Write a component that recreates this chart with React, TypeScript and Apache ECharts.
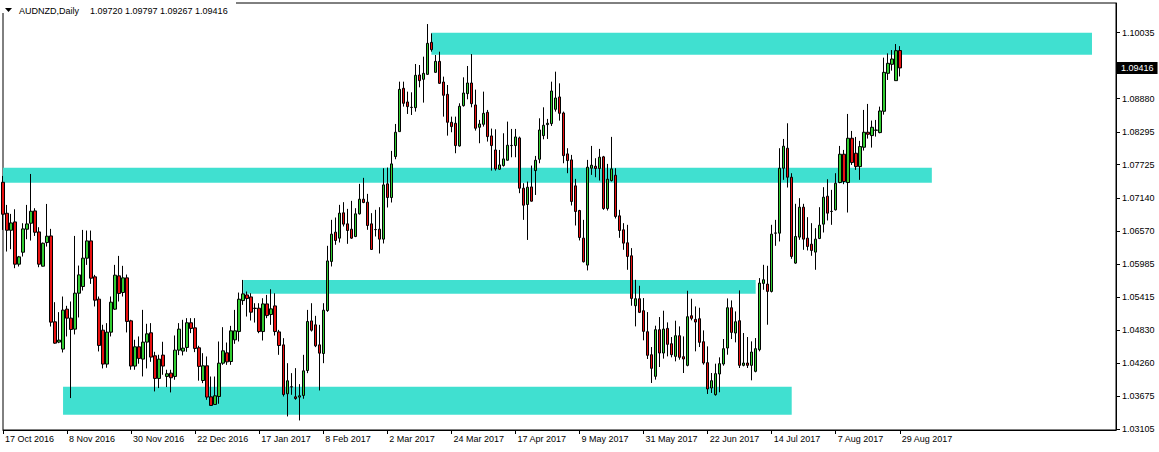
import React, { useEffect, useRef } from "react";
import * as echarts from "echarts";

const symbolName = "AUDNZD";
const timeframe = "Daily";
const firstDay = "2016-10-17";
const holidays = ["2016-12-26", "2017-01-02"];
const emptySlots = 54;

const open = [
  1.07418, 1.06876, 1.06579, 1.06725, 1.05986, 1.06195, 1.06597, 1.06702, 1.06917, 1.0655,
  1.05951, 1.06364, 1.0648, 1.04979, 1.04624, 1.04502, 1.052, 1.05043, 1.04851, 1.05479,
  1.05596, 1.06091, 1.06393, 1.05765, 1.05375, 1.04833, 1.0424, 1.04798, 1.052, 1.05782,
  1.05491, 1.05747, 1.04996, 1.04205, 1.04542, 1.04327, 1.04624, 1.04787, 1.04385, 1.03989,
  1.04397, 1.04024, 1.04082, 1.04024, 1.04484, 1.04467, 1.04531, 1.04962, 1.04874, 1.04525,
  1.03953, 1.0421, 1.03668, 1.03535, 1.03674, 1.04256, 1.04437, 1.04285, 1.04664, 1.04809,
  1.0535, 1.05449, 1.05414, 1.05217, 1.05217, 1.04809, 1.05292, 1.05106, 1.05257, 1.04803,
  1.04576, 1.03721, 1.03843, 1.03668, 1.03663, 1.03692, 1.04128, 1.04995, 1.04926, 1.04576,
  1.04425, 1.05176, 1.06034, 1.06546, 1.06441, 1.06884, 1.06691, 1.06598, 1.0647, 1.06866,
  1.07122, 1.0707, 1.06691, 1.06592, 1.06598, 1.06424, 1.0739, 1.07151, 1.07867, 1.08303,
  1.0906, 1.08821, 1.08728, 1.08722, 1.09293, 1.09217, 1.09304, 1.09863, 1.09339, 1.09531,
  1.0917, 1.08955, 1.08466, 1.08449, 1.08053, 1.08757, 1.08967, 1.09153, 1.08769, 1.08379,
  1.08431, 1.08641, 1.08228, 1.07983, 1.07646, 1.0771, 1.07803, 1.08059, 1.08059, 1.08193,
  1.07314, 1.07029, 1.07337, 1.07622, 1.0782, 1.08233, 1.08426, 1.08443, 1.08693, 1.08909,
  1.08629, 1.07914, 1.07809, 1.07355, 1.06924, 1.06441, 1.0597, 1.07663, 1.07698, 1.07658,
  1.07862, 1.06959, 1.07448, 1.07541, 1.06831, 1.06587, 1.0636, 1.06133, 1.0526, 1.05382,
  1.05173, 1.04806, 1.04404, 1.04026, 1.04841, 1.04433, 1.04864, 1.04596, 1.04375, 1.04736,
  1.04369, 1.04218, 1.05085, 1.05021, 1.05033, 1.04631, 1.04265, 1.03822, 1.03706, 1.04067,
  1.04241, 1.04521, 1.05225, 1.04783, 1.04998, 1.04218, 1.04259, 1.04218, 1.04113, 1.04492,
  1.0565, 1.05638, 1.0551, 1.06528, 1.06528, 1.07663, 1.08013, 1.07506, 1.06005, 1.06459,
  1.06982, 1.06441, 1.06336, 1.06197, 1.06435, 1.06686, 1.07174, 1.06907, 1.06936, 1.07413,
  1.07908, 1.07413, 1.08187, 1.07925, 1.07692, 1.0803, 1.08292, 1.08234, 1.08327, 1.08286,
  1.08659, 1.09322, 1.09479, 1.09194, 1.0972,
];

const close = [
  1.06859, 1.06579, 1.06707, 1.05986, 1.06114, 1.06603, 1.0669, 1.06911, 1.06544, 1.05986,
  1.06352, 1.06475, 1.04973, 1.04606, 1.04659, 1.05183, 1.05043, 1.04845, 1.05479, 1.05799,
  1.06091, 1.06393, 1.05741, 1.05357, 1.04566, 1.0424, 1.04798, 1.05322, 1.05794, 1.05474,
  1.05747, 1.04985, 1.04205, 1.04542, 1.04339, 1.04624, 1.04769, 1.04362, 1.03989, 1.04327,
  1.04205, 1.04071, 1.04001, 1.04484, 1.04851, 1.04519, 1.04962, 1.04863, 1.04513, 1.042,
  1.0421, 1.03663, 1.03517, 1.03686, 1.04256, 1.04472, 1.04279, 1.04821, 1.04821, 1.05374,
  1.05467, 1.05385, 1.05147, 1.05212, 1.04809, 1.05292, 1.05088, 1.05205, 1.04809, 1.04565,
  1.03709, 1.03948, 1.0384, 1.03639, 1.03686, 1.04122, 1.04984, 1.04832, 1.04559, 1.04431,
  1.05182, 1.06043, 1.06511, 1.064, 1.06878, 1.06686, 1.06575, 1.06441, 1.06866, 1.07122,
  1.07064, 1.06662, 1.06243, 1.0659, 1.06424, 1.07372, 1.07151, 1.07739, 1.08292, 1.09042,
  1.08798, 1.0874, 1.08725, 1.09287, 1.09194, 1.09322, 1.09846, 1.09735, 1.09531, 1.09147,
  1.08938, 1.08466, 1.08391, 1.08059, 1.08746, 1.08978, 1.09153, 1.08792, 1.08362, 1.08437,
  1.08623, 1.08216, 1.08059, 1.07651, 1.07721, 1.07826, 1.08065, 1.08062, 1.0821, 1.07314,
  1.07017, 1.07331, 1.07087, 1.07803, 1.08332, 1.08414, 1.08449, 1.09013, 1.08891, 1.08623,
  1.07884, 1.07797, 1.07082, 1.06907, 1.06453, 1.06028, 1.07681, 1.07716, 1.07658, 1.07856,
  1.06959, 1.07471, 1.07652, 1.0682, 1.06575, 1.06354, 1.06121, 1.05388, 1.05382, 1.05144,
  1.04812, 1.04393, 1.04166, 1.04841, 1.04433, 1.04852, 1.04585, 1.04404, 1.04736, 1.04358,
  1.04329, 1.05068, 1.05039, 1.04975, 1.0462, 1.04259, 1.03805, 1.0395, 1.04073, 1.04247,
  1.04509, 1.05225, 1.04794, 1.0498, 1.04218, 1.04259, 1.04218, 1.04451, 1.04509, 1.05656,
  1.05714, 1.0551, 1.06511, 1.06532, 1.07663, 1.08048, 1.07506, 1.06121, 1.0647, 1.06982,
  1.06424, 1.06296, 1.06226, 1.06424, 1.06668, 1.07157, 1.06878, 1.0691, 1.07401, 1.07908,
  1.07431, 1.08187, 1.07762, 1.07692, 1.08042, 1.08292, 1.08257, 1.08379, 1.0833, 1.08664,
  1.09339, 1.09497, 1.09572, 1.09718, 1.09416,
];

const low = [
  1.06585, 1.06207, 1.06248, 1.05916, 1.05945, 1.0612, 1.06422, 1.06399, 1.0648, 1.05933,
  1.05945, 1.06294, 1.04897, 1.04595, 1.04606, 1.04443, 1.04723, 1.03646, 1.04758, 1.05055,
  1.05526, 1.05974, 1.05642, 1.05247, 1.04461, 1.04164, 1.04176, 1.04723, 1.05188, 1.05334,
  1.05421, 1.04793, 1.04141, 1.04141, 1.04246, 1.04024, 1.04164, 1.0428, 1.03762, 1.03821,
  1.04053, 1.03838, 1.03745, 1.03966, 1.04397, 1.04391, 1.04455, 1.04781, 1.04449, 1.0395,
  1.03907, 1.03616, 1.03517, 1.0353, 1.03546, 1.04227, 1.04227, 1.04227, 1.04594, 1.04635,
  1.05275, 1.05071, 1.05001, 1.04966, 1.0478, 1.04652, 1.05042, 1.04926, 1.04739, 1.04402,
  1.03674, 1.03325, 1.03703, 1.03616, 1.03255, 1.03634, 1.04082, 1.04809, 1.04536, 1.03779,
  1.04256, 1.05153, 1.05946, 1.06325, 1.06365, 1.06645, 1.06342, 1.06429, 1.06459, 1.06854,
  1.07052, 1.06587, 1.06243, 1.0647, 1.06173, 1.06348, 1.06977, 1.07064, 1.0782, 1.083,
  1.0874, 1.08612, 1.08594, 1.08653, 1.09077, 1.0881, 1.09293, 1.097, 1.09333, 1.09136,
  1.08565, 1.08233, 1.08292, 1.07925, 1.08041, 1.0874, 1.08868, 1.08728, 1.08321, 1.081,
  1.08391, 1.08129, 1.07622, 1.07622, 1.07634, 1.07692, 1.07797, 1.07855, 1.07855, 1.07227,
  1.06761, 1.0641, 1.07081, 1.07196, 1.0775, 1.08169, 1.08175, 1.08402, 1.08653, 1.08495,
  1.0775, 1.07576, 1.07012, 1.06662, 1.06401, 1.06016, 1.05877, 1.07547, 1.07506, 1.07448,
  1.06936, 1.06924, 1.07431, 1.06785, 1.06447, 1.06238, 1.05888, 1.0526, 1.04899, 1.05132,
  1.04655, 1.04329, 1.0391, 1.03968, 1.04189, 1.04335, 1.04375, 1.04358, 1.04288, 1.04317,
  1.04084, 1.04201, 1.05004, 1.04463, 1.04538, 1.0423, 1.03718, 1.03735, 1.03688, 1.03747,
  1.04212, 1.04404, 1.04678, 1.0462, 1.04172, 1.04201, 1.04172, 1.03956, 1.04096, 1.04463,
  1.05539, 1.04928, 1.05492, 1.06307, 1.06383, 1.0746, 1.07326, 1.0608, 1.05993, 1.06412,
  1.06237, 1.06226, 1.06133, 1.05888, 1.06424, 1.0654, 1.0675, 1.06674, 1.06924, 1.07401,
  1.07384, 1.06889, 1.07721, 1.07634, 1.0746, 1.07972, 1.08181, 1.08024, 1.08216, 1.08274,
  1.086, 1.09206, 1.09369, 1.09194, 1.09267,
];

const high = [
  1.07528, 1.07022, 1.06865, 1.06946, 1.06131, 1.06702, 1.07022, 1.07563, 1.06964, 1.06632,
  1.06364, 1.07039, 1.06603, 1.05322, 1.05148, 1.05421, 1.05258, 1.05334, 1.0648, 1.05962,
  1.06585, 1.06574, 1.06574, 1.05799, 1.05421, 1.04927, 1.04956, 1.05421, 1.05974, 1.06131,
  1.05957, 1.05805, 1.05014, 1.04665, 1.04723, 1.05188, 1.04944, 1.04956, 1.04455, 1.04403,
  1.0463, 1.04141, 1.04141, 1.0474, 1.04956, 1.05014, 1.05043, 1.05043, 1.05043, 1.0456,
  1.04431, 1.04373, 1.04023, 1.04023, 1.04635, 1.04885, 1.04617, 1.04908, 1.05187, 1.0549,
  1.05711, 1.05508, 1.05478, 1.05304, 1.05304, 1.05391, 1.05449, 1.05548, 1.05478, 1.04838,
  1.04693, 1.04256, 1.04082, 1.04169, 1.0389, 1.04402, 1.05187, 1.05304, 1.05083, 1.04926,
  1.05304, 1.06307, 1.06761, 1.06802, 1.07023, 1.0707, 1.06953, 1.07093, 1.06965, 1.0739,
  1.07495, 1.07215, 1.06878, 1.06936, 1.06982, 1.07663, 1.07675, 1.07966, 1.08437, 1.09176,
  1.09176, 1.09002, 1.0899, 1.09485, 1.09467, 1.09613, 1.10183, 1.1002, 1.09642, 1.097,
  1.09264, 1.09118, 1.08565, 1.08565, 1.08798, 1.09252, 1.0945, 1.09659, 1.09037, 1.08507,
  1.09002, 1.08682, 1.08356, 1.08344, 1.07983, 1.08274, 1.08478, 1.0835, 1.0835, 1.08216,
  1.07401, 1.0743, 1.0771, 1.07878, 1.08536, 1.08728, 1.08525, 1.09176, 1.09351, 1.09147,
  1.08653, 1.08013, 1.07896, 1.07477, 1.06936, 1.06761, 1.07809, 1.08053, 1.07838, 1.08001,
  1.07879, 1.07739, 1.08211, 1.07663, 1.06936, 1.06703, 1.06674, 1.06267, 1.05714, 1.05609,
  1.05394, 1.05149, 1.04538, 1.04911, 1.05062, 1.05173, 1.04969, 1.04713, 1.04998, 1.04899,
  1.04724, 1.05522, 1.05382, 1.05248, 1.05225, 1.04829, 1.0455, 1.04084, 1.04247, 1.04358,
  1.04678, 1.05388, 1.05353, 1.05161, 1.05528, 1.04783, 1.04713, 1.04637, 1.04695, 1.05743,
  1.05975, 1.05958, 1.06674, 1.06761, 1.08013, 1.08175, 1.08449, 1.07576, 1.07041, 1.0714,
  1.07041, 1.06808, 1.06703, 1.06616, 1.06982, 1.07332, 1.07471, 1.07285, 1.07576, 1.08053,
  1.07983, 1.08612, 1.08315, 1.0821, 1.08141, 1.08682, 1.08787, 1.08496, 1.08507, 1.0874,
  1.09596, 1.09671, 1.09729, 1.09834, 1.09797,
];

const yTicks = [
  1.03105, 1.03675, 1.0426, 1.0483, 1.05415, 1.05985, 1.0657, 1.0714, 1.07725, 1.08295,
  1.0888, 1.10035,
];

// supply / demand zones: from bar index, to bar index, upper and lower price
const zoneFrom = [107, 0, 60, 15];
const zoneTo = [272, 232, 188, 197];
const zoneHigh = [1.10032, 1.0767, 1.05709, 1.03844];
const zoneLow = [1.09647, 1.0741, 1.0547, 1.03355];

const MONTHS = ["Jan", "Feb", "Mar", "Apr", "May", "Jun", "Jul", "Aug", "Sep", "Oct", "Nov", "Dec"];

function tradingDays(start: string, count: number, skip: string[]): string[] {
  const out: string[] = [];
  const d = new Date(start + "T00:00:00Z");
  while (out.length < count) {
    const wd = d.getUTCDay();
    const iso = d.toISOString().slice(0, 10);
    if (wd !== 0 && wd !== 6 && skip.indexOf(iso) < 0) {
      out.push(`${d.getUTCDate()} ${MONTHS[d.getUTCMonth()]} ${d.getUTCFullYear()}`);
    }
    d.setUTCDate(d.getUTCDate() + 1);
  }
  return out;
}

const FONT = '"Liberation Sans", Arial, sans-serif';

export default function App() {
  const ref = useRef<HTMLDivElement>(null);

  useEffect(() => {
    if (!ref.current) return;
    const chart = echarts.init(ref.current, undefined, { renderer: "svg" });
    const nBars = open.length;
    const dates = tradingDays(firstDay, nBars, holidays);
    const categories = dates.concat(
      Array.from({ length: emptySlots }, (_, k) => `future-${k}`)
    );
    const ohlc = open.map((o, i) => [o, close[i], low[i], high[i]]);
    const last = nBars - 1;
    const showIdx = (idx: number) => idx % 16 === 0 && idx < nBars;

    const zones = zoneFrom.map((f, k) => [
      { xAxis: f, yAxis: zoneHigh[k] },
      { xAxis: zoneTo[k], yAxis: zoneLow[k] },
    ]);

    chart.setOption({
      animation: false,
      backgroundColor: "#ffffff",
      grid: {
        left: 3,
        right: 43,
        top: 3,
        bottom: 22,
        show: true,
        borderColor: "#000",
        borderWidth: 1,
        backgroundColor: "#fff",
      },
      xAxis: {
        type: "category",
        data: categories,
        boundaryGap: false,
        axisLine: { show: true, lineStyle: { color: "#000", width: 1 } },
        axisTick: {
          show: true,
          interval: (idx: number) => showIdx(idx),
          length: 4,
          lineStyle: { color: "#000" },
        },
        axisLabel: {
          show: true,
          interval: (idx: number) => showIdx(idx),
          formatter: (v: string, idx: number) => (idx < nBars ? v : ""),
          align: "left",
          padding: [0, 0, 0, 2],
          margin: 4,
          color: "#000",
          fontSize: 9,
          fontFamily: FONT,
        },
        splitLine: { show: false },
      },
      yAxis: {
        type: "value",
        position: "right",
        min: 1.03088,
        max: 1.10551,
        axisLine: { show: true, lineStyle: { color: "#000" } },
        axisTick: {
          show: true,
          length: 4,
          customValues: yTicks,
          lineStyle: { color: "#000" },
        },
        axisLabel: {
          show: true,
          customValues: yTicks,
          formatter: (v: number) => v.toFixed(5),
          margin: 6,
          color: "#000",
          fontSize: 9,
          fontFamily: FONT,
        },
        splitLine: { show: false },
      },
      series: [
        {
          type: "candlestick",
          data: ohlc,
          barWidth: 3,
          z: 5,
          itemStyle: {
            color: "#32CD32",
            color0: "#E81010",
            borderColor: "#000",
            borderColor0: "#000",
            borderColorDoji: "#000",
            borderWidth: 1,
          },
          markArea: {
            silent: true,
            z: 1,
            itemStyle: { color: "#40E0D0", opacity: 1, borderWidth: 0 },
            label: { show: false },
            data: zones,
          },
          markLine: {
            silent: true,
            z: 20,
            precision: 5,
            symbol: ["none", "none"],
            lineStyle: { color: "rgba(0,0,0,0)", width: 1, type: "solid" },
            emphasis: { disabled: true },
            label: {
              show: true,
              position: "end",
              distance: 1,
              formatter: () => close[last].toFixed(5),
              backgroundColor: "#000",
              color: "#fff",
              opacity: 1,
              padding: [2, 4, 1, 4],
              fontSize: 9,
              fontFamily: FONT,
            },
            data: [{ yAxis: close[last] }],
          },
        },
      ],
      graphic: [
        {
          type: "rect",
          z: 100,
          shape: { x: 0, y: 0, width: 236, height: 13 },
          style: { fill: "#fff" },
        },
        {
          type: "polygon",
          z: 101,
          shape: { points: [[5, 8], [12, 8], [8.5, 12]] },
          style: { fill: "#000" },
        },
        {
          type: "text",
          z: 101,
          x: 19,
          y: 11,
          style: {
            text: `${symbolName},${timeframe}`,
            fill: "#000",
            fontSize: 9,
            fontFamily: FONT,
            verticalAlign: "middle",
          },
        },
        {
          type: "text",
          z: 101,
          x: 90,
          y: 11,
          style: {
            text: [open[last], high[last], low[last], close[last]]
              .map((v) => v.toFixed(5))
              .join(" "),
            fill: "#000",
            fontSize: 9,
            fontFamily: FONT,
            verticalAlign: "middle",
          },
        },
      ],
    });

    return () => chart.dispose();
  }, []);

  return (
    <div
      ref={ref}
      style={{ position: "absolute", left: 0, top: 0, width: 1159, height: 452, background: "#fff" }}
    />
  );
}
